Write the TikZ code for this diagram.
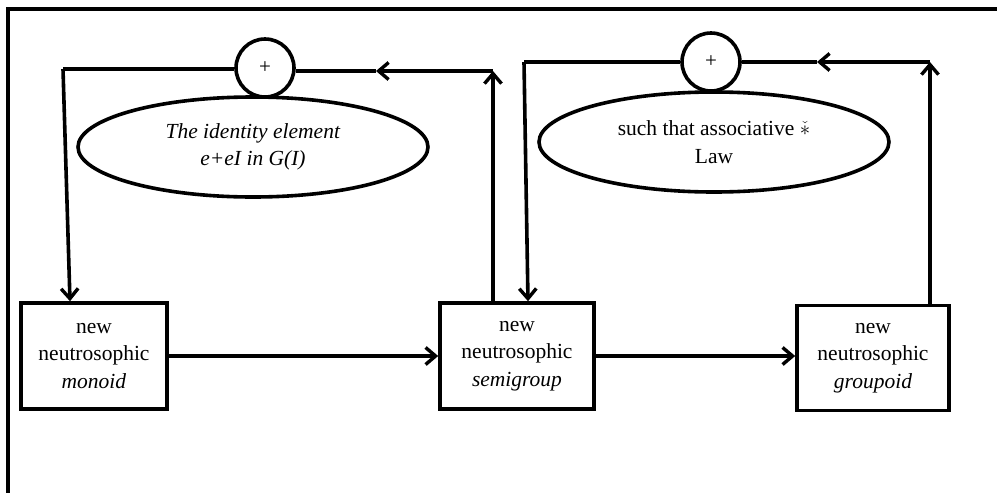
\documentclass[tikz,border=0pt]{standalone}
\usepackage{fontspec}
\setmainfont{Liberation Serif}
\usetikzlibrary{shapes.geometric,arrows.meta}
\begin{document}
\begin{tikzpicture}[x=1pt,y=-1pt,
  every node/.style={font=\fontsize{21.5}{27.5}\selectfont},
  lw/.style={line width=3.6pt},
  box/.style={draw,lw,rectangle,align=center,inner sep=0pt},
  oval/.style={draw,lw,ellipse,inner sep=0pt,align=center,minimum width=350pt,minimum height=100pt},
  sum/.style={draw,lw,circle,fill=white,minimum size=58pt,inner sep=0pt,font=\fontsize{21}{23}\selectfont},
  arr/.style={lw,-{Straight Barb[length=10pt,width=17pt,line width=3.4pt]}},
]
\useasboundingbox (0,0) rectangle (997,493);
% frame
\coordinate (f1) at (8,495);
\coordinate (f2) at (8,9);
\coordinate (f3) at (999,9);
\draw[lw] (f1) -- (f2) -- (f3);

% boxes
\node[box,minimum width=146pt,minimum height=106pt] (m) at (94,356) {new\\neutrosophic\\\textit{monoid}};
\node[box,minimum width=154pt,minimum height=106pt] (s) at (517,356) {new\\neutrosophic\\\textit{semigroup}};
\node[box,minimum width=152pt,minimum height=105pt] (g) at (873,358) {new\\neutrosophic\\\textit{groupoid}};

% ovals
\node[oval] (e1) at (253,147) {\textit{The identity element}\\\textit{e+eI in G(I)}};
\node[oval] (e2) at (714,142) {such that associative $\check{\ast}$\\Law};

% summing circles
\node[sum] (c1) at (265,68) {+};
\node[sum] (c2) at (711,62) {+};

% loop coordinates
\coordinate (k1) at (493,71);
\coordinate (a1) at (376,71);
\coordinate (k2) at (63,69);
\coordinate (k3) at (930,62);
\coordinate (a2) at (817,62);
\coordinate (k4) at (524,62);

% main flow
\draw[arr] (m.east) -- (s.west);
\draw[arr] (s.east) -- (s.east -| g.west);

% left loop
\draw[arr] ([xshift=-24pt]s.north) -- (k1);
\draw[arr] (k1) -- (a1);
\draw[lw] (a1) -- (c1.east |- a1);
\draw[lw] (c1.west |- k2) -- (k2);
\draw[arr] (k2) -- ([xshift=-24pt]m.north);

% right loop
\draw[arr] ([xshift=57pt]g.north) -- (k3);
\draw[arr] (k3) -- (a2);
\draw[lw] (a2) -- (c2.east);
\draw[lw] (c2.west) -- (k4);
\draw[arr] (k4) -- ([xshift=11pt]s.north);
\end{tikzpicture}
\end{document}
